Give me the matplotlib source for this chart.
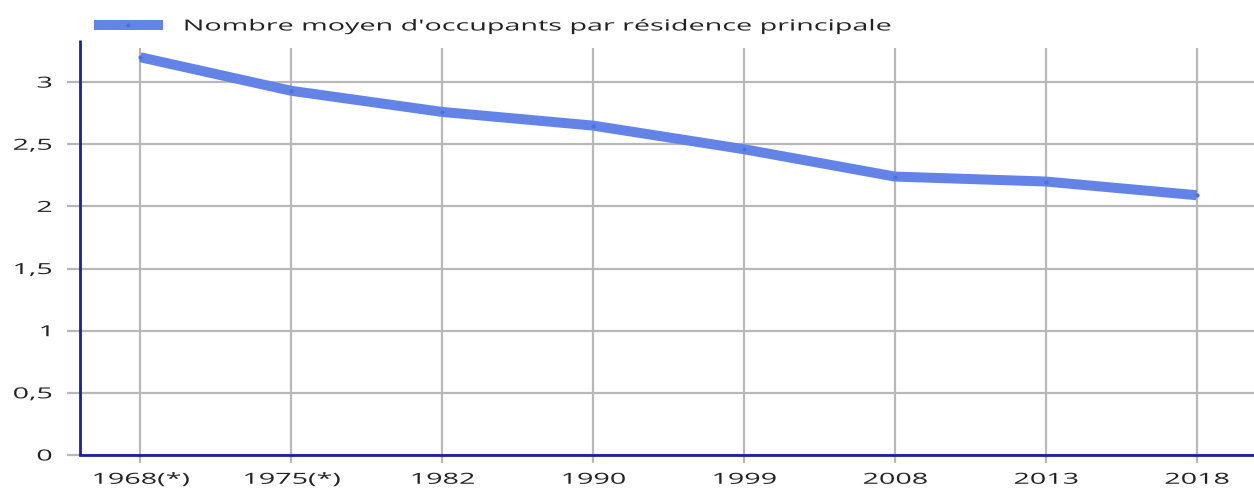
import matplotlib
matplotlib.use("Agg")
import matplotlib.pyplot as plt
from matplotlib.patheffects import AbstractPathEffect
from matplotlib.transforms import Affine2D

categories = ["1968(*)", "1975(*)", "1982", "1990", "1999", "2008", "2013", "2018"]
values = [3.20, 2.93, 2.76, 2.65, 2.46, 2.24, 2.20, 2.09]
yticks = [0, 0.5, 1, 1.5, 2, 2.5, 3]
ytick_labels = ["0", "0,5", "1", "1,5", "2", "2,5", "3"]
series_label = "Nombre moyen d'occupants par résidence principale"

plt.rcParams['font.family'] = ['Open Sans', 'DejaVu Sans']


class HStretch(AbstractPathEffect):
    """Draw text stretched horizontally (the reference image is widened)."""
    def __init__(self, sx, anchor="left"):
        super().__init__()
        self.sx = sx
        self.anchor = anchor

    def draw_path(self, renderer, gc, tpath, affine, rgbFace=None):
        v = tpath.vertices
        if len(v) == 0:
            return
        if self.anchor == "left":
            cx = 0.0
        elif self.anchor == "right":
            cx = v[:, 0].max()
        else:
            cx = 0.5 * (v[:, 0].min() + v[:, 0].max())
        t = Affine2D().translate(-cx, 0).scale(self.sx, 1).translate(cx, 0) + affine
        renderer.draw_path(gc, tpath, t, rgbFace)


SX = 1.88
FS = 11
TXT = "#222222"

fig = plt.figure(figsize=(12.54, 4.93), dpi=100)
ax = fig.add_axes([80/1254, 1-455/493, 1-80/1254, (455-48)/493])

x = list(range(len(categories)))
ax.plot(x, values, color="#6384e6", lw=7.2, marker='o', markersize=3,
        markerfacecolor="#4a6fe0", markeredgewidth=0, solid_capstyle='butt',
        label=series_label, zorder=3)

ax.set_xlim(-0.4, len(categories) - 1 + 0.38)
top = (455-48)/124.3
ax.set_ylim(0, top)
ax.set_xticks(x)
ax.set_xticklabels(categories)
ax.set_yticks(yticks)
ax.set_yticklabels(ytick_labels)

ax.grid(True, color="#b8b8b8", lw=1.6)
ax.set_axisbelow(True)
ax.tick_params(axis='y', length=9.4, width=1.6, color="#b8b8b8", pad=10.8,
               labelsize=FS, labelcolor=TXT)
ax.tick_params(axis='x', length=5.8, width=1.6, color="#b8b8b8", pad=7,
               labelsize=FS, labelcolor=TXT)

for lab in ax.get_xticklabels():
    lab.set_path_effects([HStretch(SX, "center")])
for lab in ax.get_yticklabels():
    lab.set_path_effects([HStretch(SX, "right")])

for s in ['top', 'right']:
    ax.spines[s].set_visible(False)
for s in ['left', 'bottom']:
    ax.spines[s].set_color("#1f1f96")
    ax.spines[s].set_linewidth(2.0)
# y axis line extends a little above the grid lines
ax.plot([0, 0], [0, 1 + 8/407], transform=ax.transAxes, color="#1f1f96",
        lw=2.0, clip_on=False, solid_capstyle='butt', zorder=4)
ax.spines['left'].set_visible(False)

leg = fig.legend(loc='center left', bbox_to_anchor=(94/1254, 1-27/493), frameon=False,
                 handlelength=4.5, handletextpad=1.31, fontsize=FS,
                 borderaxespad=0, borderpad=0)
for t in leg.get_texts():
    t.set_color(TXT)
    t.set_path_effects([HStretch(SX, "left")])

fig.savefig("out.png", dpi=100)
